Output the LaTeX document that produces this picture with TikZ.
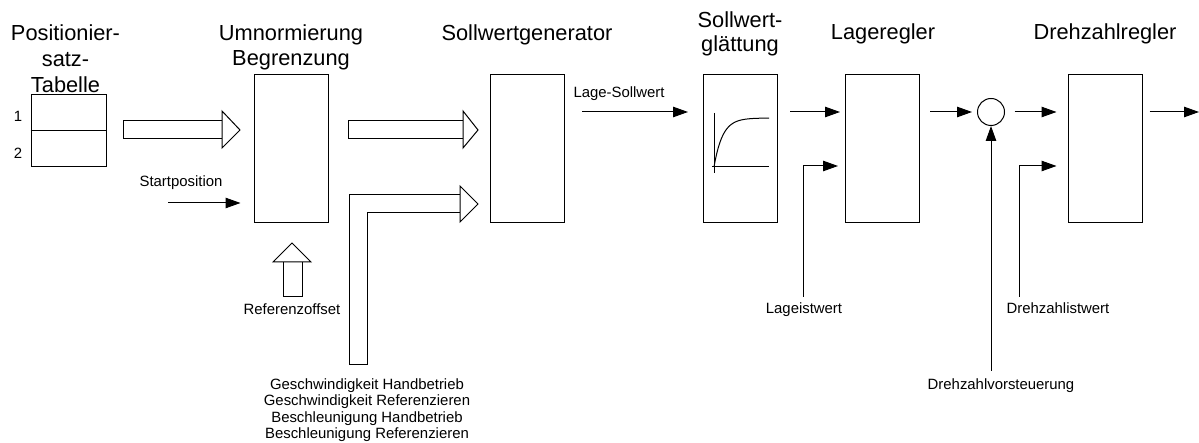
\documentclass[tikz,border=0pt]{standalone}
\usepackage{fontspec}
\setmainfont{Liberation Sans}
\usetikzlibrary{arrows.meta,calc}
\begin{document}
\begin{tikzpicture}[x=1pt,y=-1pt,
  line width=1pt,
  blk/.style={draw, rectangle, minimum width=74pt, minimum height=148pt, inner sep=0pt},
  ttl/.style={anchor=base, inner sep=0pt, font=\fontsize{21.8}{26}\selectfont},
  lbl/.style={anchor=base, inner sep=0pt, font=\fontsize{14.9}{16.5}\selectfont},
  arr/.style={-{Triangle[length=15pt,width=10.5pt]}},
  hollow/.style={draw, fill=white, line join=miter}]
\useasboundingbox (0,0) rectangle (1199,443);

% ---- blocks ----
\node[blk, minimum width=75pt, minimum height=72pt] (tab) at (68.5,131) {};
\draw (tab.west) -- (tab.east);
\node[lbl] (n1) at (18,122) {1};
\node[lbl] (n2) at (18,159) {2};
\node[blk] (umn) at (291,149) {};
\node[blk] (gen) at (527.5,149) {};
\node[blk] (glt) at (740.5,149) {};
\node[blk] (lag) at (882.5,149) {};
\node[blk] (drz) at (1105,149) {};
\node[draw, circle, minimum size=27pt, inner sep=0pt] (sum) at (991,112) {};

% ---- titles ----
\node[ttl] (t1a) at (65.5,40.5) {Positionier-};
\node[ttl] (t1b) at (65.5,66.5) {satz-};
\node[ttl] (t1c) at (65.5,92.5) {Tabelle};
\node[ttl] (t2a) at (291,40.5) {Umnormierung};
\node[ttl] (t2b) at (291,65.5) {Begrenzung};
\node[ttl] (t3) at (527,40.5) {Sollwertgenerator};
\node[ttl] (t4a) at (740,27.5) {Sollwert-};
\node[ttl] (t4b) at (740,52) {glättung};
\node[ttl] (t5) at (883,40) {Lageregler};
\node[ttl] (t6) at (1105,40) {Drehzahlregler};

% ---- signal rows ----
\coordinate (row) at (0,112);
\coordinate (row2) at (0,166);
\coordinate (rowsp) at (0,203);

% Startposition
\coordinate (sp) at (168,203);
\draw[arr, shorten >=13pt] (sp) -- (umn.west |- rowsp);
\node[lbl] (spt) at (181,187) {Startposition};

% Lage-Sollwert
\draw[arr, shorten <=17pt, shorten >=15pt] (gen.east |- row) -- (glt.west |- row);
\node[lbl, anchor=base west] (lst) at (573,98) {Lage-Sollwert};

\draw[arr, shorten <=12pt, shorten >=5pt] (glt.east |- row) -- (lag.west |- row);
\draw[arr, shorten <=10pt, shorten >=5pt] (lag.east |- row) -- (sum.west);
\draw[arr, shorten <=9.5pt, shorten >=11pt] (sum.east) -- (drz.west |- row);
\coordinate (out) at (1199,112);
\draw[arr, shorten <=7pt] (drz.east |- row) -- (out);

% feedback inputs
\coordinate (li) at (803,297);
\draw[arr, shorten >=7pt] (li) |- (lag.west |- row2);
\node[lbl] (lit) at (804,314) {Lageistwert};

\coordinate (di) at (1019,297);
\draw[arr, shorten >=11pt] (di) |- (drz.west |- row2);
\node[lbl] (dit) at (1058,314) {Drehzahlistwert};

\coordinate (dv) at (991,371);
\draw[arr] (dv) -- (sum.south);
\node[lbl] (dvt) at (1001,389) {Drehzahlvorsteuerung};

% ---- smoothing characteristic ----
\draw (714,113) -- (714,173);
\draw (712,167) -- (769,167);
\draw plot[domain=0:55, samples=50, smooth] ({714+\x},{167-49*(1-exp(-\x/8.5))});

% ---- block arrows ----
\draw[hollow] (123,121) rectangle (222,139);
\draw[hollow] (222,111) -- (240,130) -- (222,148) -- cycle;
\draw[hollow] (348,121) rectangle (463,139);
\draw[hollow] (463,111) -- (478,130) -- (463,148) -- cycle;
\draw[hollow] (349,365) -- (349,195) -- (460,195) -- (460,213) -- (367,213) -- (367,365) -- cycle;
\draw[hollow] (460,186) -- (478,204) -- (460,222) -- cycle;
\draw[hollow] (283,262) rectangle (302,297);
\draw[hollow] (273,262) -- (292,243) -- (311,262) -- cycle;
\node[lbl] (rot) at (292,315) {Referenzoffset};

% ---- parameter list ----
\node[lbl] (p1) at (367,389) {Geschwindigkeit Handbetrieb};
\node[lbl] (p2) at (367,405.5) {Geschwindigkeit Referenzieren};
\node[lbl] (p3) at (367,422) {Beschleunigung Handbetrieb};
\node[lbl] (p4) at (367,438.5) {Beschleunigung Referenzieren};
\end{tikzpicture}
\end{document}
